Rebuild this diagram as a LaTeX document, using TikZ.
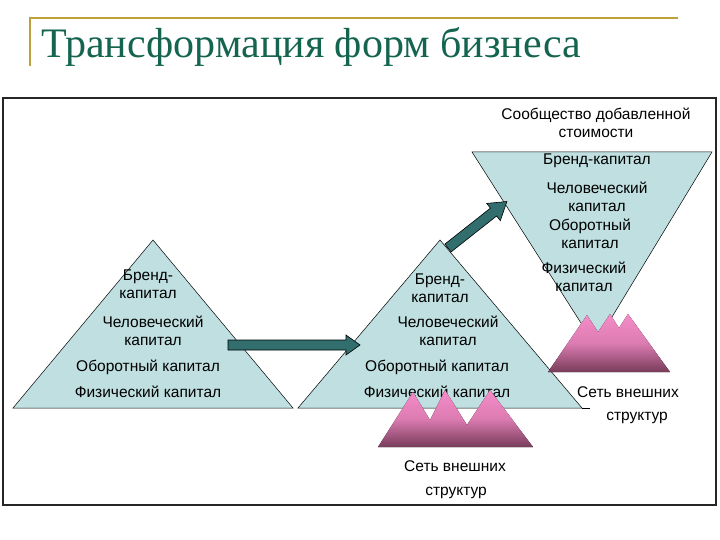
\documentclass[tikz,border=0pt]{standalone}
\usepackage{fontspec}
\setmainfont{Liberation Sans}
\newfontfamily\titlefont{Liberation Serif}
\usetikzlibrary{arrows.meta}
\definecolor{tri}{RGB}{191,223,224}
\definecolor{gold}{RGB}{190,160,60}
\definecolor{ttl}{RGB}{20,100,80}
\definecolor{arr}{RGB}{50,110,110}
\definecolor{mtop}{RGB}{245,140,200}
\definecolor{mbot}{RGB}{120,60,90}
\begin{document}
\begin{tikzpicture}[x=1pt,y=-1pt,
  lbl/.style={font=\fontsize{15.5}{18.5}\selectfont,align=center,inner sep=1pt},
  trishape/.style={fill=tri,draw=black,line width=0.5pt},
  mount/.style={top color=mtop,bottom color=mbot,middle color=mtop!80!mbot,draw=none},
  bigarrow/.style={draw=black,fill=arr,line width=0.6pt}]
\useasboundingbox (0,0) rectangle (720,540);
\draw[gold,line width=1.5pt] (30,66) -- (30,18) -- (678,18);
\node[anchor=base west,text=ttl,font=\titlefont\fontsize{42}{45}\selectfont,inner sep=0] (title) at (41,58) {Трансформация форм бизнеса};
\draw[line width=1.2pt,black!85] (3,98) rectangle (716,505);
% triangles
\draw[trishape] (13,408) -- (153,240) -- (293,408) -- cycle;
\draw[trishape] (298,408) -- (440,240) -- (582,408) -- cycle;
\draw[black,line width=0.5pt] (582,408) -- (590,408);
\draw[trishape] (472,152) -- (712,152) -- (595,345) -- cycle;
% arrows
\draw[bigarrow] (228,340) -- (346,340) -- (346,335) -- (360,345) -- (346,355) -- (346,350) -- (228,350) -- cycle;
\draw[bigarrow,shift={(448,248)},rotate=38.3] (0,-5) -- (58,-5) -- (58,-11) -- (75,0) -- (58,11) -- (58,5) -- (0,5) -- cycle;
% texts triangle 1
\node[lbl] (t1a) at (148,284) {Бренд-\\капитал};
\node[lbl] (t1b) at (153,331) {Человеческий\\капитал};
\node[lbl] (t1c) at (148,367) {Оборотный капитал};
\node[lbl] (t1d) at (148,392) {Физический капитал};
% texts triangle 2
\node[lbl] (t2a) at (440,288) {Бренд-\\капитал};
\node[lbl] (t2b) at (448,331) {Человеческий\\капитал};
\node[lbl] (t2c) at (437,367) {Оборотный капитал};
\node[lbl] (t2d) at (437,392) {Физический капитал};
% texts triangle 3
\node[lbl] (t3h) at (596,123) {Сообщество добавленной\\стоимости};
\node[lbl] (t3a) at (597,161) {Бренд-капитал};
\node[lbl] (t3b) at (597,197) {Человеческий\\капитал};
\node[lbl] (t3c) at (590,234) {Оборотный\\капитал};
\node[lbl] (t3d) at (584,277) {Физический\\капитал};
% mountains
\fill[mount] (378,447) -- (413,392) -- (430,420) -- (445,390) -- (467,425) -- (490,390) -- (533,447) -- cycle;
\fill[mount] (548,372) -- (587,315) -- (598,332) -- (610,314) -- (619,328) -- (628,314) -- (670,372) -- cycle;
\node[lbl] (m1) at (455,466) {Сеть внешних};
\node[lbl] (m1b) at (456,493) {структур};
\node[lbl] (m2) at (628,392) {Сеть внешних};
\node[lbl] (m2b) at (637,418) {структур};
\end{tikzpicture}
\end{document}
